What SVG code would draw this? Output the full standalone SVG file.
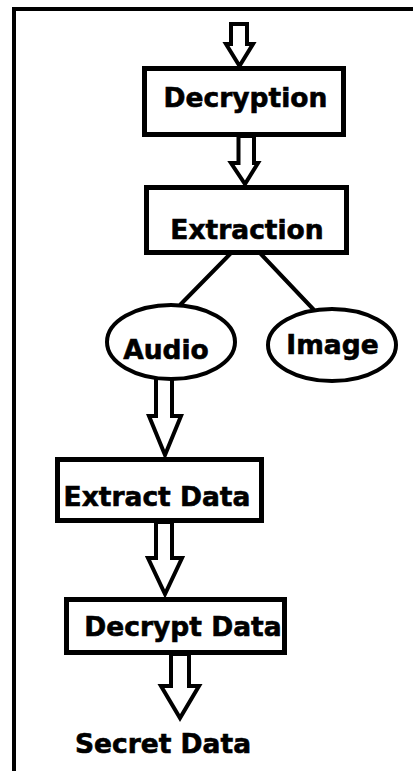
<svg xmlns="http://www.w3.org/2000/svg" width="413" height="771" viewBox="0 0 413 771">
<style>
.box{fill:#fff;stroke:#000;stroke-width:5}
.ell{fill:#fff;stroke:#000;stroke-width:4}
.arr{fill:#fff;stroke:#000;stroke-width:4;stroke-linejoin:miter}
.ln{stroke:#000;stroke-width:4;fill:none}
.t{font-family:"DejaVu Sans",sans-serif;font-weight:bold;font-size:26.5px;fill:#000;stroke:#000;stroke-width:0.6;text-anchor:middle}
</style>
<rect width="413" height="771" fill="#fff"/>
<path d="M14,771 V9 H413" fill="none" stroke="#000" stroke-width="4"/>
<g id="connectors">
<path class="arr" d="M231,24 V44 H226 L239.5,66 L253,44 H247 V24 Z"/>
<path class="arr" d="M238.5,136 V163 H231 L245,184 L258,163 H254 V136 Z"/>
<path class="ln" d="M231,253 L180,305 M260,253 L314,310"/>
<path class="arr" d="M156,378 V416 H149 L165,455 L181,416 H172 V378 Z"/>
<path class="arr" d="M156,522 V558 H148 L165,594 L182,558 H172 V522 Z"/>
<path class="arr" d="M171,654 V686 H161 L180,718 L199,686 H189 V654 Z"/>
</g>
<g id="decryption"><rect class="box" x="144.5" y="68.5" width="199" height="66"/><text class="t" x="245.5" y="107">Decryption</text></g>
<g id="extraction"><rect class="box" x="146.5" y="187.5" width="200" height="65"/><text class="t" x="247" y="239">Extraction</text></g>
<g id="audio"><ellipse class="ell" cx="171" cy="342" rx="64" ry="37"/><text class="t" x="166" y="359">Audio</text></g>
<g id="image"><ellipse class="ell" cx="332" cy="345" rx="64" ry="36"/><text class="t" x="332.5" y="354">Image</text></g>
<g id="extract-data"><rect class="box" x="57.5" y="459.5" width="204" height="61"/><text class="t" x="157" y="506">Extract Data</text></g>
<g id="decrypt-data"><rect class="box" x="66.5" y="599.5" width="218" height="53"/><text class="t" x="183" y="636">Decrypt Data</text></g>
<g id="secret-data"><text class="t" x="163" y="753">Secret Data</text></g>
</svg>
